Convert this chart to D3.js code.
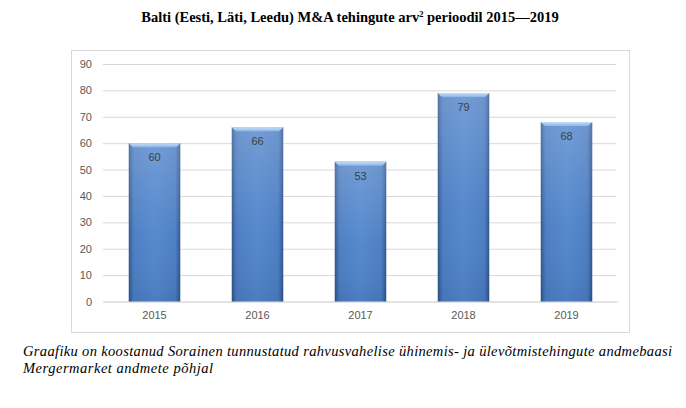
<!DOCTYPE html>
<html><head><meta charset="utf-8">
<script src="https://cdn.jsdelivr.net/npm/d3@7"></script>
<style>body{margin:0;background:#fff}svg{display:block}</style>
</head><body>
<svg id="c" width="686" height="408"></svg>
<script>
const categories = ["2015","2016","2017","2018","2019"];
const values = [60,66,53,79,68];
const yTicks = [0,10,20,30,40,50,60,70,80,90];

const svg = d3.select("#c");
const defs = svg.append("defs");
const g1 = defs.append("linearGradient").attr("id","barH").attr("x1","0").attr("x2","1").attr("y1","0").attr("y2","0");
[[0,"#2a4f85"],[0.04,"#3a66a6"],[0.1,"#4a7cc2"],[0.5,"#5085cc"],[0.9,"#4a7cc2"],[0.96,"#3a66a6"],[1,"#2a4f85"]]
  .forEach(([o,c])=>g1.append("stop").attr("offset",o).attr("stop-color",c));
const g2 = defs.append("linearGradient").attr("id","barV").attr("x1","0").attr("x2","0").attr("y1","0").attr("y2","1");
[[0,"#ffffff",0.2],[0.6,"#ffffff",0.03],[1,"#000000",0.06]].forEach(([o,c,a])=>g2.append("stop").attr("offset",o).attr("stop-color",c).attr("stop-opacity",a));
const g3 = defs.append("linearGradient").attr("id","bevel").attr("x1","0").attr("x2","0").attr("y1","0").attr("y2","1");
[[0,"#c6defa"],[1,"#8db5e6"]].forEach(([o,c])=>g3.append("stop").attr("offset",o).attr("stop-color",c));

// title
const title = svg.append("text").attr("x",350).attr("y",22).attr("text-anchor","middle")
  .attr("font-family","Liberation Serif, Times New Roman, serif").attr("font-weight","bold").attr("font-size",14.5).attr("fill","#000");
title.append("tspan").text("Balti (Eesti, Läti, Leedu) M&A tehingute arv");
title.append("tspan").attr("font-size",8.5).attr("dy",-5).text("2");
title.append("tspan").attr("dy",5).text(" perioodil 2015\u20142019");

// chart border
svg.append("rect").attr("x",71.5).attr("y",50.5).attr("width",558).attr("height",282).attr("fill","#fff").attr("stroke","#d9d9d9");

const x = d3.scaleBand().domain(categories).range([103,618]).paddingInner(0.5).paddingOuter(0.25);
const y = d3.scaleLinear().domain([0,90]).range([301.5,64]);

const gy = svg.append("g").attr("transform","translate(103,0)")
  .call(d3.axisLeft(y).tickValues(yTicks).tickSize(-513).tickPadding(11));
gy.select(".domain").remove();
gy.selectAll(".tick line").attr("stroke","#d9d9d9");
gy.selectAll(".tick text").attr("fill","#595959").attr("font-size",11).attr("font-family","Liberation Sans, Arial, sans-serif");

const gx = svg.append("g").attr("transform","translate(0,301.5)")
  .call(d3.axisBottom(x).tickSize(0).tickPadding(10));
gx.select(".domain").attr("stroke","#d9d9d9");
gx.selectAll(".tick text").attr("fill","#595959").attr("font-size",11).attr("font-family","Liberation Sans, Arial, sans-serif");

const bars = svg.append("g").selectAll("g").data(categories).join("g");
bars.append("rect").attr("x",d=>x(d)).attr("y",(d,i)=>y(values[i])).attr("width",x.bandwidth())
  .attr("height",(d,i)=>y(0)-y(values[i])).attr("fill","url(#barH)");
bars.append("rect").attr("x",d=>x(d)).attr("y",(d,i)=>y(values[i])).attr("width",x.bandwidth())
  .attr("height",(d,i)=>y(0)-y(values[i])).attr("fill","url(#barV)");
bars.append("path").attr("d",(d,i)=>{
  const x0=x(d), x1=x0+x.bandwidth(), t=y(values[i]);
  return `M${x0},${t}L${x1},${t}L${x1-4},${t+4}L${x0+4},${t+4}Z`;
}).attr("fill","url(#bevel)");
bars.append("text").attr("x",d=>x(d)+x.bandwidth()/2).attr("y",(d,i)=>y(values[i])+18)
  .attr("text-anchor","middle").attr("font-size",11).attr("font-family","Liberation Sans, Arial, sans-serif")
  .attr("fill","#404040").text((d,i)=>values[i]);

// footnote
const fn = svg.append("g").attr("font-family","Liberation Serif, Times New Roman, serif").attr("font-style","italic").attr("font-size",14.5).attr("fill","#000");
fn.append("text").attr("x",23).attr("y",356).attr("textLength",649).attr("lengthAdjust","spacing")
  .text("Graafiku on koostanud Sorainen tunnustatud rahvusvahelise ühinemis- ja ülevõtmistehingute andmebaasi");
fn.append("text").attr("x",23).attr("y",373).attr("textLength",190).attr("lengthAdjust","spacing").text("Mergermarket andmete põhjal");
</script>
</body></html>
